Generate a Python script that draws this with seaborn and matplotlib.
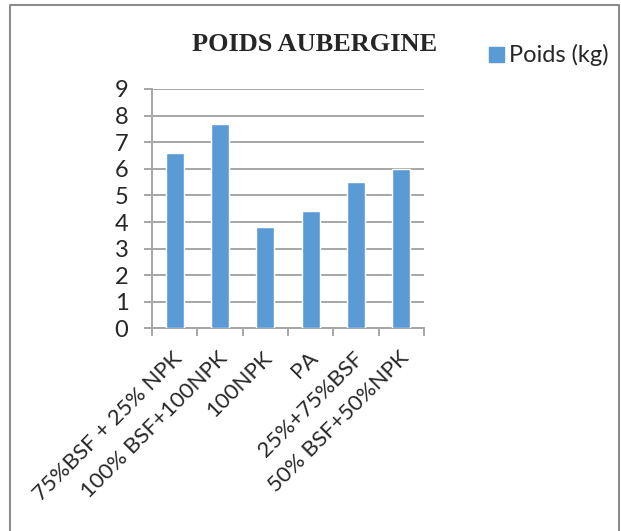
import pandas as pd
import numpy as np
import seaborn as sns
import matplotlib.pyplot as plt
from matplotlib.lines import Line2D
from matplotlib.transforms import ScaledTranslation

# data
traitements = ['75%BSF + 25% NPK', '100% BSF+100NPK', '100NPK', 'PA',
               '25%+75%BSF', '50% BSF+50%NPK']
poids = [6.6, 7.7, 3.8, 4.4, 5.5, 6.0]
serie = 'Poids (kg)'

df = pd.DataFrame({'Traitement': traitements, serie: poids})

sns.set_style("white")
plt.rcParams['font.family'] = ['Lato', 'DejaVu Sans']

fig = plt.figure(figsize=(6.21, 5.31), dpi=100)
ax = fig.add_axes([0.2448, 0.3814, 0.438, 0.4510])

grid_col = '#a6a6a6'
sns.barplot(data=df, x='Traitement', y=serie, color='#5b9bd5', width=0.4,
            saturation=1, ax=ax, zorder=3)

ax.set_ylim(0, 9)
ax.set_xlim(-0.5, len(traitements) - 0.5)
ax.set_yticks(range(0, 10))
ax.yaxis.grid(True, color=grid_col, linewidth=1.4, zorder=0)
ax.set_axisbelow(True)
ax.set_xlabel('')
ax.set_ylabel('')

for s in ['top', 'right']:
    ax.spines[s].set_visible(False)
for s in ['left', 'bottom']:
    ax.spines[s].set_color(grid_col)
    ax.spines[s].set_linewidth(1.4)

ax.tick_params(axis='y', left=True, length=6, width=1.4, color=grid_col,
               labelsize=17, pad=11)
# x ticks between the categories
ax.set_xticks(np.arange(-0.5, len(traitements)), minor=True)
ax.tick_params(axis='x', which='minor', bottom=True, length=6, width=1.4,
               color=grid_col)
ax.tick_params(axis='x', which='major', bottom=False, labelsize=16, pad=2)
ax.set_xticks(range(len(traitements)))
ax.set_xticklabels(traitements, rotation=45, ha='right', va='center',
                   rotation_mode='anchor')
shift = ScaledTranslation(4 / 100, -19 / 100, fig.dpi_scale_trans)
for lab in ax.get_xticklabels():
    lab.set_transform(lab.get_transform() + shift)

fig.text(0.507, 0.917, 'POIDS AUBERGINE', ha='center', va='center',
         fontsize=19, fontweight='bold', family='Liberation Serif')

handle = Line2D([], [], marker='s', linestyle='', color='#5b9bd5', markersize=10.8)
fig.legend([handle], [serie], loc='center left', bbox_to_anchor=(0.783, 0.896),
           frameon=False, fontsize=17, handletextpad=0.15, handlelength=0.8,
           borderpad=0, borderaxespad=0)

# outer frame of the chart
fig.add_artist(Line2D([10 / 621, 10 / 621, 619 / 621, 619 / 621],
                      [0, 1 - 5 / 531, 1 - 5 / 531, 0],
                      transform=fig.transFigure, color='#8c8c8c', linewidth=1.5))

fig.savefig('out.png', dpi=100)
plt.close(fig)
